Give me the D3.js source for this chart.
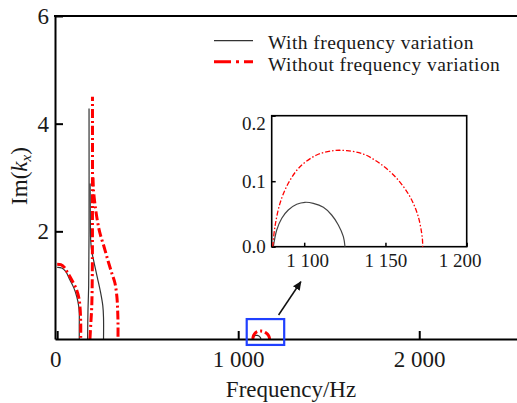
<!DOCTYPE html>
<html><head><meta charset="utf-8">
<script src="https://cdn.jsdelivr.net/npm/d3@7"></script>
<style>
body{margin:0;background:#fff}
svg{display:block}
text{font-family:"Liberation Serif","Times New Roman",serif;fill:#1a1a1a}
</style>
</head><body>
<svg id="c" width="517" height="403"></svg>
<script>
// ---------- data ----------
const xTicks = [0, 1000, 2000];
const yTicks = [2, 4, 6];
const insetXTicks = [1100, 1150, 1200];
const insetYTicks = [0, 0.1, 0.2];
const seriesNames = ["With frequency variation", "Without frequency variation"];

// With frequency variation (black) : [frequency Hz, Im(kx)]
const withBranch1 = [[0,1.33],[25,1.32],[48,1.25],[70,1.10],[92,0.95],[108,0.79],[118,0.63],[122,0.48],[122,0.25],[122,0]];
const withBranch2 = [[168,0],[170,0.5],[174,1.0],[176,2.0],[176,4.28]];
const withBranch3 = [[182,2.89],[183,2.3],[185,1.85],[190,1.65],[205,1.40],[222,1.14],[240,0.86],[252,0.62],[256,0.4],[256,0]];
const withBranch4 = [[1081,0],[1083.1,0.0255],[1086.2,0.0434],[1090.2,0.056],[1095.4,0.0647],[1100.5,0.0678],[1105.6,0.0662],[1111.8,0.0601],[1116.9,0.0484],[1121,0.0331],[1124.1,0.0153],[1125.1,0]];

// Without frequency variation (red)
const withoutBranch1 = [[0,1.39],[20,1.38],[40,1.33],[56,1.24],[80,1.10],[104,0.94],[120,0.76],[126,0.6],[130,0.3],[130,0]];
const withoutBranch2 = [[181,0],[186,0.3],[191,0.6],[194,1.2],[195,2.5],[195,4.5]];
const withoutBranch3 = [[198,3.0],[201,2.75],[209,2.5],[222,2.2],[236,1.97],[260,1.70],[282,1.44],[302,1.22],[319,1.04],[330,0.78],[334,0.54],[336,0.3],[336,0]];
const withoutBranch4 = [[1080.6,0],[1082,0.0305],[1085.1,0.0662],[1090.2,0.0968],[1097.4,0.122],[1107.7,0.14],[1117.9,0.1466],[1126.2,0.1466],[1136.4,0.1415],[1146.6,0.127],[1156.9,0.1044],[1165.1,0.0763],[1170.2,0.0458],[1172.7,0.0128],[1172.9,0]];

const withBranches = [withBranch1, withBranch2, withBranch3, withBranch4];
const withoutBranches = [withoutBranch1, withoutBranch2, withoutBranch3, withoutBranch4];

// zoom window (data coords) and arrow
const zoomBox = {f0:1047, f1:1254, v0:-0.11, v1:0.37};
const arrowPts = [[1223,0.446],[1346,1.064]];

// ---------- drawing ----------
const svg = d3.select("#c");
const x = d3.scaleLinear().domain([-12, 2540]).range([55, 517]);
const y = d3.scaleLinear().domain([0, 6]).range([339, 16]);

const fmt = d => d === 0 ? "0" : d3.format(",")(d).replace(/,/g, " ");

const BLACK = "#333", RED = "#ff0000";

const line = d3.line().x(d => x(d[0])).y(d => y(d[1])).curve(d3.curveCatmullRom.alpha(0.5));

// curves main
withBranches.forEach(b => svg.append("path").attr("d", line(b))
  .attr("fill","none").attr("stroke",BLACK).attr("stroke-width",1.2));
withoutBranches.forEach(b => svg.append("path").attr("d", line(b))
  .attr("fill","none").attr("stroke",RED).attr("stroke-width",3)
  .attr("stroke-dasharray","9,3,2,3"));

// axes
const xAxis = d3.axisBottom(x).tickValues(xTicks).tickFormat(fmt).tickSizeInner(-8).tickSizeOuter(0).tickPadding(12);
const gx = svg.append("g").attr("transform","translate(0,339)").call(xAxis);
gx.select(".domain").attr("stroke","#000").attr("stroke-width",2);
gx.selectAll(".tick line").attr("stroke","#000").attr("stroke-width",2);
gx.selectAll(".tick text").attr("font-size",23).attr("font-family","Liberation Serif").attr("fill","#1a1a1a");
gx.selectAll(".tick").filter(d => d === 0).select("text").attr("x", -2);

const yAxis = d3.axisLeft(y).tickValues(yTicks).tickFormat(d3.format("d")).tickSizeInner(-8).tickSizeOuter(0).tickPadding(6);
const gy = svg.append("g").attr("transform","translate(55,0)").call(yAxis);
gy.select(".domain").attr("stroke","#000").attr("stroke-width",2);
gy.selectAll(".tick line").attr("stroke","#000").attr("stroke-width",2);
gy.selectAll(".tick text").attr("font-size",23).attr("font-family","Liberation Serif").attr("fill","#1a1a1a");

// top border
svg.append("line").attr("x1",x.range()[0]-1).attr("x2",517).attr("y1",y(6)).attr("y2",y(6))
  .attr("stroke","#000").attr("stroke-width",2);

// axis titles
svg.append("text").attr("x",291).attr("y",397).attr("text-anchor","middle").attr("font-size",23).text("Frequency/Hz");
const yl = svg.append("text").attr("transform","translate(27,176) rotate(-90)").attr("text-anchor","middle").attr("font-size",23);
yl.append("tspan").text("Im(");
yl.append("tspan").attr("font-style","italic").text("k");
yl.append("tspan").attr("font-style","italic").attr("font-size",15).attr("dy",4).text("x");
yl.append("tspan").attr("dy",-4).text(")");

// legend
const legend = svg.append("g");
legend.append("line").attr("x1",214).attr("x2",253).attr("y1",40.7).attr("y2",40.7).attr("stroke",BLACK).attr("stroke-width",1.3);
legend.append("text").attr("x",268).attr("y",49.3).attr("font-size",19.5).attr("letter-spacing",0.45).text(seriesNames[0]);
legend.append("line").attr("x1",214).attr("x2",253).attr("y1",61.7).attr("y2",61.7).attr("stroke",RED).attr("stroke-width",3)
  .attr("stroke-dasharray","17,5,3,5");
legend.append("text").attr("x",268).attr("y",70.5).attr("font-size",19.5).attr("letter-spacing",0.45).text(seriesNames[1]);

// zoom box
svg.append("rect").attr("x",x(zoomBox.f0)).attr("y",y(zoomBox.v1))
  .attr("width",x(zoomBox.f1)-x(zoomBox.f0)).attr("height",y(zoomBox.v0)-y(zoomBox.v1))
  .attr("fill","none").attr("stroke","#2040ff").attr("stroke-width",2.2);

// arrow
svg.append("defs").append("marker").attr("id","ah").attr("viewBox","0 0 10 10").attr("refX",9).attr("refY",5)
  .attr("markerWidth",9).attr("markerHeight",9).attr("markerUnits","userSpaceOnUse").attr("orient","auto")
  .append("path").attr("d","M0,0.5 L10,5 L0,9.5 Z").attr("fill","#111");
svg.append("line").attr("x1",x(arrowPts[0][0])).attr("y1",y(arrowPts[0][1]))
  .attr("x2",x(arrowPts[1][0])).attr("y2",y(arrowPts[1][1]))
  .attr("stroke","#111").attr("stroke-width",1.5).attr("marker-end","url(#ah)");

// inset
const xi = d3.scaleLinear().domain([1080, 1200]).range([271.7, 466.7]);
const yi = d3.scaleLinear().domain([0, 0.2]).range([246.7, 115.7]);
const gi = svg.append("g");
gi.append("rect").attr("x",271.7).attr("y",115.7).attr("width",195).attr("height",131)
  .attr("fill","#fff").attr("stroke","#000").attr("stroke-width",1.6);
const linei = d3.line().x(d => xi(d[0])).y(d => yi(d[1])).curve(d3.curveCatmullRom.alpha(0.5));
gi.append("path").attr("d",linei(withBranch4)).attr("fill","none").attr("stroke","#444").attr("stroke-width",1.2);
gi.append("path").attr("d",linei(withoutBranch4)).attr("fill","none").attr("stroke",RED).attr("stroke-width",1.3)
  .attr("stroke-dasharray","5,2,1.5,2");

const xia = d3.axisBottom(xi).tickValues(insetXTicks).tickFormat(fmt).tickSizeInner(-4).tickSizeOuter(0).tickPadding(6.5);
const gxi = gi.append("g").attr("transform","translate(0,246.7)").call(xia);
gxi.select(".domain").remove();
gxi.selectAll(".tick line").attr("stroke","#000").attr("stroke-width",1.5);
gxi.selectAll(".tick text").attr("font-size",19).attr("font-family","Liberation Serif").attr("fill","#1a1a1a");
gxi.selectAll(".tick").filter(d => d === 1100).select("text").attr("x", 3);
gxi.selectAll(".tick").filter(d => d === 1200).select("text").attr("x", -7);

const yia = d3.axisLeft(yi).tickValues(insetYTicks).tickFormat(d3.format(".1f")).tickSizeInner(-4).tickSizeOuter(0).tickPadding(6);
const gyi = gi.append("g").attr("transform","translate(271.7,0)").call(yia);
gyi.select(".domain").remove();
gyi.selectAll(".tick line").attr("stroke","#000").attr("stroke-width",1.5);
gyi.selectAll(".tick text").attr("font-size",19).attr("font-family","Liberation Serif").attr("fill","#1a1a1a");
gyi.selectAll(".tick").filter(d => d === 0.2).select("text").attr("y", 8);
</script>
</body></html>
